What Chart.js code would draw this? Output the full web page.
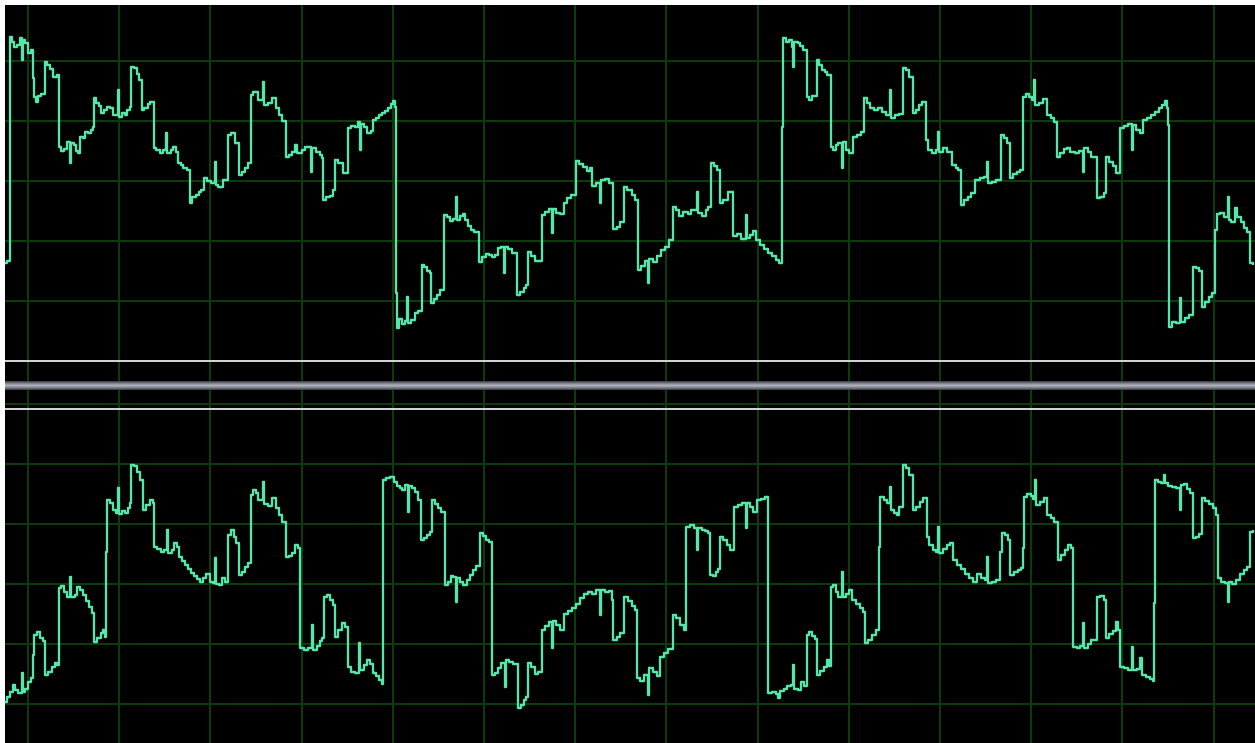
<!DOCTYPE html>
<html>
<head>
<meta charset="utf-8">
<title>Scope</title>
<script src="https://cdn.jsdelivr.net/npm/chart.js@4.4.1/dist/chart.umd.min.js"></script>
<style>
  html, body { margin: 0; padding: 0; background: #fff; }
  #scope { position: absolute; left: 5px; top: 5px; width: 1250px; height: 738px; background: #000; overflow: hidden; }
  .panel { position: absolute; left: 0; width: 1250px; }
  #upper { top: 0; height: 356px; }
  #lower { top: 357px; height: 381px; }
  .rule { position: absolute; left: 0; width: 1250px; height: 2px; background: #d2d2d2; }
  #bar { position: absolute; left: 0; width: 1250px; top: 376px; height: 9px;
         background: linear-gradient(#34373e, #878b95 30%, #aeb2bc 50%, #878b95 70%, #34373e); }
</style>
</head>
<body>
<div id="scope">
  <div class="panel" id="upper"><canvas id="upperChart"></canvas></div>
  <div class="panel" id="lower"><canvas id="lowerChart"></canvas></div>
  <div class="rule" style="top:355px"></div>
  <div id="bar"></div>
  <div class="rule" style="top:403px"></div>
</div>
<script>
// time in samples from the first graticule line, level in counts (60 per division)
const timeGrid = [0, 91, 182, 274, 365, 456, 547, 638, 730, 821, 912, 1003, 1094, 1186];
const levelGrid = [0, 60, 120, 180, 240, 300];

// channel 1: [time, level] breakpoints of the stepped trace
const channel1 = [
  [-23,98],[-21,100],[-18,324],[-16,319],[-14,314],[-11,316],[-8,323],[-6,301],[-5,321],[-3,318],
  [0,308],[3,311],[5,283],[6,264],[8,259],[10,265],[13,267],[17,299],[19,296],[22,292],[25,284],
  [29,286],[31,214],[33,210],[36,212],[39,219],[42,198],[43,218],[46,216],[48,210],[50,208],
  [52,224],[55,223],[57,229],[60,228],[63,231],[65,234],[66,263],[68,258],[71,255],[73,248],
  [76,251],[79,254],[82,253],[85,246],[90,271],[91,244],[94,248],[97,246],[99,251],[102,254],
  [103,294],[106,293],[109,287],[111,281],[114,251],[116,253],[120,257],[122,259],[126,213],
  [128,211],[132,208],[135,211],[138,228],[139,208],[143,211],[145,214],[148,209],[150,198],
  [153,196],[155,193],[159,191],[162,158],[164,164],[168,166],[171,169],[173,171],[176,183],
  [179,180],[183,178],[187,199],[188,176],[190,174],[195,181],[200,226],[203,228],[207,218],
  [211,186],[214,189],[217,193],[220,198],[223,266],[225,269],[230,261],[235,279],[236,256],
  [240,258],[244,263],[248,253],[251,246],[254,240],[258,204],[261,206],[264,209],[267,216],
  [269,208],[274,211],[277,214],[283,189],[284,213],[288,209],[292,206],[294,203],[295,161],
  [298,164],[302,165],[305,171],[307,201],[310,198],[315,188],[320,233],[323,235],[327,234],
  [330,239],[332,211],[333,237],[336,234],[339,228],[343,230],[345,241],[348,243],[351,246],
  [354,248],[357,250],[360,253],[363,257],[365,260],[367,254],[368,68],[369,33],[371,42],
  [374,37],[377,40],[379,64],[380,38],[383,41],[387,48],[390,50],[394,96],[396,94],[399,90],
  [402,88],[403,58],[406,62],[409,66],[412,71],[416,146],[419,144],[422,140],[425,142],
  [428,164],[429,141],[432,145],[435,147],[437,141],[440,135],[443,131],[446,129],[451,99],
  [454,104],[458,107],[461,106],[464,104],[467,106],[470,113],[473,114],[476,88],[477,114],
  [480,112],[484,108],[489,66],[492,69],[496,73],[498,76],[500,109],[503,105],[507,100],
  [514,146],[517,149],[521,152],[524,128],[525,152],[528,148],[532,147],[536,158],[539,163],
  [543,166],[548,200],[551,197],[555,194],[559,190],[562,193],[564,175],[568,178],[572,158],
  [573,181],[577,182],[581,178],[585,132],[589,134],[592,139],[596,174],[599,171],[604,166],
  [607,161],[610,91],[613,95],[617,100],[620,78],[621,102],[625,99],[629,105],[633,111],
  [637,114],[641,121],[645,154],[648,151],[651,145],[655,149],[660,147],[663,151],[669,169],
  [670,148],[674,145],[678,151],[680,154],[683,198],[686,195],[689,191],[692,158],[695,161],
  [700,169],[705,125],[709,127],[713,122],[718,146],[719,123],[722,126],[725,130],[728,121],
  [732,116],[736,112],[740,108],[744,105],[748,101],[751,98],[754,234],[755,323],[758,319],
  [761,321],[764,314],[765,294],[766,319],[770,318],[772,315],[775,311],[779,264],[781,261],
  [784,265],[789,301],[791,296],[794,291],[797,289],[799,286],[803,214],[805,211],[808,216],
  [810,218],[814,193],[815,219],[818,211],[821,208],[825,224],[829,226],[833,229],[836,263],
  [839,258],[842,253],[846,251],[850,253],[854,249],[858,246],[862,271],[863,243],[867,246],
  [871,247],[875,293],[878,291],[881,284],[885,248],[888,251],[891,256],[894,259],[898,221],
  [900,211],[904,208],[908,211],[910,229],[911,209],[915,213],[919,209],[924,196],[928,193],
  [930,191],[933,156],[936,161],[940,164],[943,168],[947,181],[952,183],[956,184],[959,199],
  [960,178],[964,179],[968,181],[973,226],[976,223],[979,218],[982,183],[985,187],[989,189],
  [992,191],[995,264],[998,267],[1001,264],[1004,261],[1006,281],[1007,256],[1011,258],
  [1015,262],[1019,246],[1023,243],[1026,239],[1029,204],[1032,208],[1036,212],[1039,213],
  [1042,209],[1047,208],[1051,210],[1055,189],[1056,213],[1060,209],[1063,204],[1069,163],
  [1072,164],[1076,168],[1078,204],[1081,199],[1085,195],[1088,188],[1092,233],[1096,235],
  [1100,237],[1104,211],[1105,236],[1108,231],[1112,228],[1115,241],[1119,243],[1123,246],
  [1127,249],[1131,253],[1134,256],[1137,260],[1139,253],[1140,236],[1141,34],[1144,39],
  [1148,38],[1152,63],[1153,39],[1157,43],[1161,46],[1165,94],[1168,93],[1171,90],[1174,54],
  [1177,59],[1181,64],[1184,68],[1187,131],[1189,147],[1192,148],[1196,144],[1200,164],
  [1201,141],[1203,139],[1207,153],[1209,144],[1213,139],[1216,133],[1219,129],[1222,98],
  [1225,96]
];

// channel 2
const channel2 = [
  [-23,2],[-21,7],[-18,12],[-15,19],[-13,14],[-10,11],[-6,31],[-5,12],[-3,15],[0,22],[3,26],
  [5,49],[6,69],[9,72],[12,66],[15,63],[17,29],[20,32],[24,37],[27,41],[29,39],[31,116],
  [33,118],[36,112],[39,107],[42,127],[43,107],[47,109],[49,117],[52,114],[55,109],[58,103],
  [61,97],[64,91],[66,62],[69,66],[73,71],[75,74],[77,67],[78,152],[79,204],[82,201],[85,194],
  [88,191],[90,216],[91,190],[94,193],[97,191],[100,196],[102,201],[103,239],[106,238],
  [109,232],[112,224],[115,194],[118,199],[122,204],[125,201],[126,157],[129,155],[133,152],
  [136,154],[139,174],[140,151],[144,154],[146,161],[149,157],[151,147],[154,143],[157,139],
  [160,135],[163,131],[166,128],[169,125],[172,122],[175,126],[178,130],[182,122],[185,121],
  [187,146],[188,120],[191,119],[194,126],[197,122],[200,169],[203,174],[206,167],[208,161],
  [211,129],[214,132],[217,137],[220,141],[223,209],[225,214],[228,211],[230,204],[235,222],
  [236,200],[240,198],[244,206],[248,196],[251,189],[254,182],[258,147],[261,148],[264,151],
  [267,159],[270,156],[272,56],[276,54],[280,56],[284,79],[285,54],[289,58],[292,63],[294,66],
  [296,107],[299,109],[302,104],[305,99],[307,67],[310,74],[314,81],[317,77],[320,37],[323,32],
  [327,31],[331,61],[332,34],[336,39],[339,44],[342,40],[345,31],[348,28],[351,24],[354,20],
  [355,224],[358,226],[362,227],[366,222],[369,218],[372,216],[374,214],[377,219],[380,192],
  [381,218],[384,216],[387,212],[390,204],[393,164],[396,166],[399,169],[402,172],[404,204],
  [407,200],[410,196],[413,192],[417,119],[420,122],[423,128],[425,127],[428,102],[429,126],
  [432,122],[435,119],[439,124],[442,129],[445,134],[448,138],[452,171],[455,168],[458,164],
  [461,162],[464,29],[467,31],[470,36],[473,41],[477,17],[478,44],[481,42],[485,40],[490,-4],
  [493,-1],[496,4],[498,7],[500,41],[503,37],[507,30],[510,32],[514,74],[517,78],[521,82],
  [524,56],[525,83],[528,79],[532,74],[536,90],[540,93],[544,96],[548,100],[552,106],[556,110],
  [560,112],[564,110],[568,114],[572,89],[573,114],[577,112],[581,113],[584,104],[585,64],
  [589,67],[592,71],[596,107],[600,103],[604,98],[607,94],[609,26],[612,23],[616,29],[620,9],
  [621,36],[625,32],[629,28],[632,47],[636,51],[640,55],[645,89],[648,86],[652,79],[656,74],
  [658,177],[662,179],[666,176],[669,154],[670,176],[674,174],[677,173],[680,171],[682,129],
  [685,128],[688,132],[690,135],[692,167],[695,164],[699,159],[702,154],[706,197],[710,199],
  [714,201],[718,176],[719,201],[722,197],[725,192],[729,204],[733,205],[737,207],[740,11],
  [744,12],[748,10],[750,6],[752,13],[756,15],[759,18],[763,19],[765,39],[766,15],[770,14],
  [773,22],[776,18],[779,69],[781,72],[784,68],[787,65],[789,29],[792,33],[796,37],[799,44],
  [801,38],[803,117],[805,119],[808,112],[810,107],[814,132],[815,107],[818,110],[821,114],
  [824,104],[828,100],[832,96],[835,92],[837,61],[840,64],[844,69],[848,74],[851,157],
  [852,207],[856,204],[859,201],[862,217],[863,194],[866,191],[869,189],[871,197],[875,239],
  [878,236],[881,229],[885,194],[888,197],[892,202],[895,206],[899,167],[901,159],[905,154],
  [908,152],[910,177],[911,151],[915,155],[919,159],[922,161],[925,144],[929,139],[933,135],
  [937,130],[941,126],[945,122],[949,130],[953,126],[957,124],[959,147],[960,121],[964,122],
  [968,124],[972,152],[974,171],[977,169],[980,164],[982,129],[986,132],[990,134],[993,136],
  [995,156],[996,207],[999,210],[1003,208],[1005,205],[1007,224],[1008,199],[1012,202],
  [1016,206],[1019,189],[1023,186],[1026,182],[1030,144],[1033,149],[1037,154],[1040,159],
  [1043,156],[1045,57],[1049,56],[1052,58],[1055,81],[1056,56],[1060,60],[1063,64],[1069,107],
  [1072,108],[1076,104],[1078,66],[1081,70],[1085,73],[1088,82],[1090,74],[1092,37],[1096,36],
  [1100,34],[1104,57],[1105,34],[1109,35],[1112,46],[1114,29],[1118,27],[1122,25],[1125,23],
  [1126,101],[1127,224],[1130,222],[1133,221],[1136,229],[1137,221],[1140,218],[1144,217],
  [1148,216],[1152,194],[1153,219],[1156,220],[1159,215],[1162,211],[1165,166],[1168,167],
  [1171,170],[1174,206],[1177,203],[1181,200],[1185,196],[1188,189],[1190,126],[1193,122],
  [1197,121],[1200,102],[1201,122],[1204,120],[1208,124],[1212,130],[1216,134],[1219,137],
  [1222,172],[1225,174]
];

const TRACE = '#55e6a9';
const GRID = 'rgb(12,60,12)';

function fixedTicks(values) {
  return function(scale) {
    scale.ticks = values.map(v => ({ value: v }));
  };
}

function drawScope(canvasId, trace, yMin, yMax) {
  var ctx = document.getElementById(canvasId);
  var config = {
    type: 'line',
    data: {
      datasets: [{
        data: trace.map(p => ({ x: p[0], y: p[1] })),
        borderColor: TRACE,
        borderWidth: 2.3,
        borderJoinStyle: 'round',
        pointRadius: 0,
        stepped: true,
        fill: false,
      }]
    },
    options: {
      responsive: true,
      maintainAspectRatio: false,
      animation: false,
      events: [],
      layout: { padding: 0 },
      plugins: {
        legend: { display: false },
        tooltip: { enabled: false },
      },
      scales: {
        x: {
          type: 'linear',
          min: -23,
          max: 1227,
          afterBuildTicks: fixedTicks(timeGrid),
          grid: { color: GRID, lineWidth: 2, drawTicks: false },
          border: { display: false },
          ticks: { display: false },
        },
        y: {
          type: 'linear',
          min: yMin,
          max: yMax,
          afterBuildTicks: fixedTicks(levelGrid),
          grid: { color: GRID, lineWidth: 2, drawTicks: false },
          border: { display: false },
          ticks: { display: false },
        }
      }
    }
  };
  new Chart(ctx, config);
}

drawScope('upperChart', channel1, 0, 356);
drawScope('lowerChart', channel2, -39, 342);
</script>
</body>
</html>
